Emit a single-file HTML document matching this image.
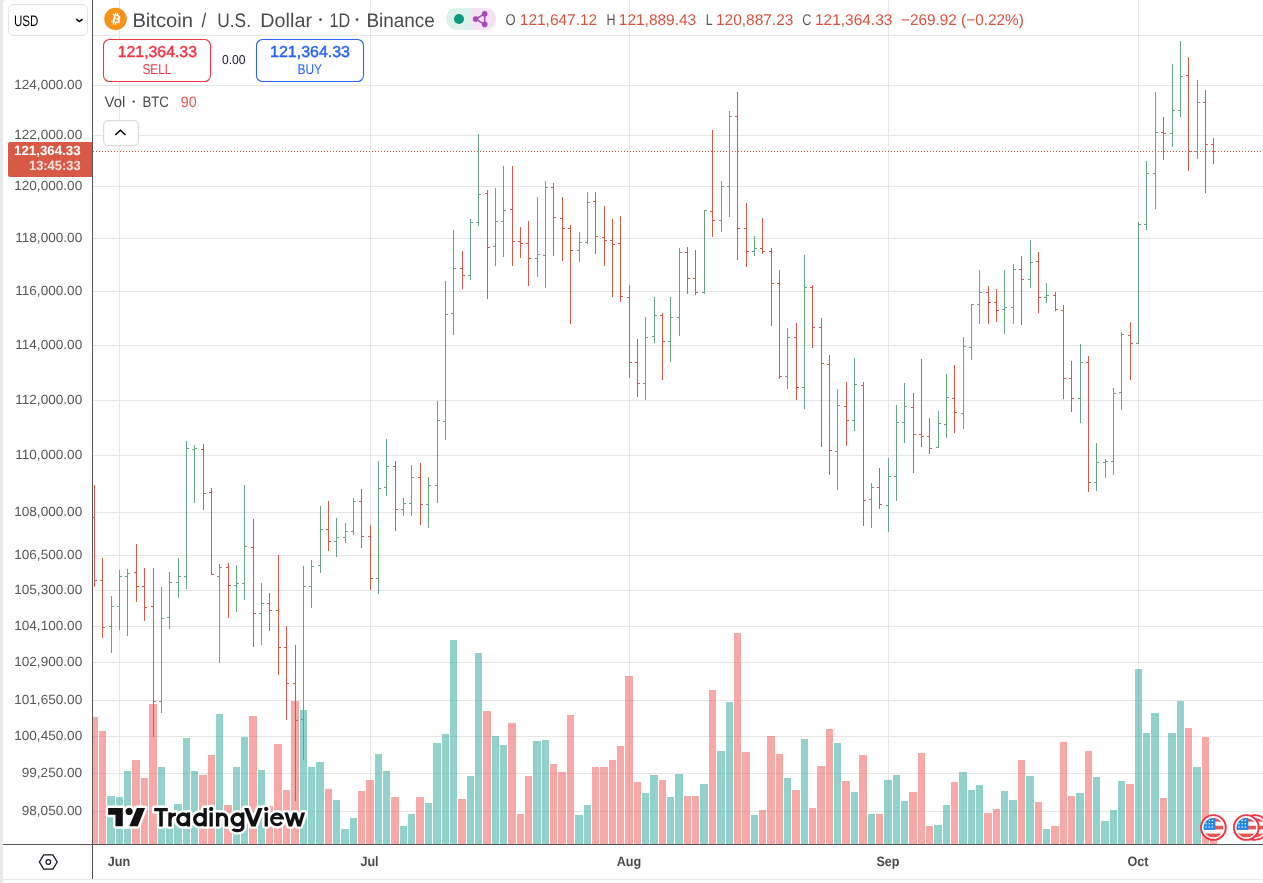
<!DOCTYPE html>
<html><head><meta charset="utf-8"><title>BTCUSD Chart</title>
<style>
html,body{margin:0;padding:0;background:#fff;}
body{width:1263px;height:883px;overflow:hidden;}
svg{display:block;font-family:"Liberation Sans",sans-serif;text-rendering:geometricPrecision;}
</style></head>
<body><svg width="1263" height="883" viewBox="0 0 1263 883"><rect x="0" y="0" width="1263" height="883" fill="#ffffff"/><rect x="0" y="0" width="3" height="883" fill="#e9e9e9"/><path d="M3,0 H7 A4,4 0 0 0 3,4 Z" fill="#e9e9e9"/><rect x="3" y="879" width="1260" height="1" fill="#e9e9e9"/><g fill="#e6e6e6" shape-rendering="crispEdges"><rect x="93" y="35" width="1170" height="1"/><rect x="93" y="85" width="1170" height="1"/><rect x="93" y="135" width="1170" height="1"/><rect x="93" y="186" width="1170" height="1"/><rect x="93" y="238" width="1170" height="1"/><rect x="93" y="291" width="1170" height="1"/><rect x="93" y="345" width="1170" height="1"/><rect x="93" y="400" width="1170" height="1"/><rect x="93" y="455" width="1170" height="1"/><rect x="93" y="512" width="1170" height="1"/><rect x="93" y="555" width="1170" height="1"/><rect x="93" y="590" width="1170" height="1"/><rect x="93" y="626" width="1170" height="1"/><rect x="93" y="662" width="1170" height="1"/><rect x="93" y="700" width="1170" height="1"/><rect x="93" y="736" width="1170" height="1"/><rect x="93" y="773" width="1170" height="1"/><rect x="93" y="811" width="1170" height="1"/><rect x="119" y="0" width="1" height="844"/><rect x="370" y="0" width="1" height="844"/><rect x="629" y="0" width="1" height="844"/><rect x="888" y="0" width="1" height="844"/><rect x="1138" y="0" width="1" height="844"/></g><g fill="rgba(239,83,80,0.5)" shape-rendering="crispEdges"><rect x="93" y="717" width="5" height="127"/><rect x="99" y="731" width="7" height="113"/><rect x="132" y="760" width="8" height="84"/><rect x="141" y="778" width="7" height="66"/><rect x="149" y="704" width="8" height="140"/><rect x="199" y="775" width="8" height="69"/><rect x="208" y="755" width="7" height="89"/><rect x="224" y="805" width="8" height="39"/><rect x="249" y="716" width="8" height="128"/><rect x="266" y="806" width="7" height="38"/><rect x="274" y="744" width="8" height="100"/><rect x="283" y="790" width="7" height="54"/><rect x="291" y="701" width="8" height="143"/><rect x="325" y="789" width="7" height="55"/><rect x="358" y="791" width="7" height="53"/><rect x="366" y="780" width="8" height="64"/><rect x="391" y="797" width="8" height="47"/><rect x="416" y="797" width="8" height="47"/><rect x="458" y="799" width="8" height="45"/><rect x="483" y="711" width="8" height="133"/><rect x="508" y="723" width="8" height="121"/><rect x="517" y="814" width="7" height="30"/><rect x="525" y="776" width="7" height="68"/><rect x="550" y="764" width="7" height="80"/><rect x="558" y="772" width="8" height="72"/><rect x="567" y="715" width="7" height="129"/><rect x="592" y="767" width="7" height="77"/><rect x="600" y="767" width="8" height="77"/><rect x="609" y="760" width="7" height="84"/><rect x="617" y="746" width="7" height="98"/><rect x="625" y="676" width="8" height="168"/><rect x="634" y="782" width="7" height="62"/><rect x="659" y="780" width="7" height="64"/><rect x="684" y="796" width="7" height="48"/><rect x="692" y="796" width="7" height="48"/><rect x="709" y="690" width="7" height="154"/><rect x="734" y="633" width="7" height="211"/><rect x="742" y="752" width="8" height="92"/><rect x="759" y="810" width="7" height="34"/><rect x="767" y="736" width="8" height="108"/><rect x="776" y="754" width="7" height="90"/><rect x="792" y="790" width="8" height="54"/><rect x="809" y="808" width="7" height="36"/><rect x="817" y="766" width="8" height="78"/><rect x="826" y="729" width="7" height="115"/><rect x="842" y="781" width="8" height="63"/><rect x="859" y="755" width="8" height="89"/><rect x="876" y="814" width="7" height="30"/><rect x="909" y="792" width="8" height="52"/><rect x="918" y="753" width="7" height="91"/><rect x="926" y="826" width="7" height="18"/><rect x="951" y="782" width="7" height="62"/><rect x="984" y="813" width="8" height="31"/><rect x="993" y="809" width="7" height="35"/><rect x="1018" y="760" width="7" height="84"/><rect x="1035" y="802" width="7" height="42"/><rect x="1051" y="826" width="8" height="18"/><rect x="1060" y="742" width="7" height="102"/><rect x="1068" y="796" width="7" height="48"/><rect x="1085" y="751" width="7" height="93"/><rect x="1126" y="784" width="8" height="60"/><rect x="1160" y="798" width="7" height="46"/><rect x="1185" y="728" width="7" height="116"/><rect x="1202" y="737" width="7" height="107"/><rect x="1210" y="836" width="7" height="8"/></g><g fill="rgba(38,166,154,0.5)" shape-rendering="crispEdges"><rect x="107" y="796" width="8" height="48"/><rect x="116" y="797" width="7" height="47"/><rect x="124" y="771" width="7" height="73"/><rect x="158" y="767" width="7" height="77"/><rect x="166" y="812" width="7" height="32"/><rect x="174" y="804" width="8" height="40"/><rect x="183" y="738" width="7" height="106"/><rect x="191" y="771" width="7" height="73"/><rect x="216" y="714" width="7" height="130"/><rect x="233" y="767" width="7" height="77"/><rect x="241" y="737" width="7" height="107"/><rect x="258" y="770" width="7" height="74"/><rect x="300" y="710" width="7" height="134"/><rect x="308" y="767" width="7" height="77"/><rect x="316" y="762" width="8" height="82"/><rect x="333" y="800" width="7" height="44"/><rect x="341" y="829" width="8" height="15"/><rect x="350" y="818" width="7" height="26"/><rect x="375" y="754" width="7" height="90"/><rect x="383" y="771" width="7" height="73"/><rect x="400" y="826" width="7" height="18"/><rect x="408" y="814" width="7" height="30"/><rect x="425" y="803" width="7" height="41"/><rect x="433" y="743" width="8" height="101"/><rect x="442" y="734" width="7" height="110"/><rect x="450" y="640" width="7" height="204"/><rect x="467" y="776" width="7" height="68"/><rect x="475" y="653" width="7" height="191"/><rect x="492" y="736" width="7" height="108"/><rect x="500" y="745" width="7" height="99"/><rect x="533" y="741" width="8" height="103"/><rect x="542" y="740" width="7" height="104"/><rect x="575" y="815" width="8" height="29"/><rect x="584" y="805" width="7" height="39"/><rect x="642" y="793" width="7" height="51"/><rect x="650" y="775" width="8" height="69"/><rect x="667" y="797" width="7" height="47"/><rect x="675" y="774" width="8" height="70"/><rect x="700" y="784" width="8" height="60"/><rect x="717" y="751" width="8" height="93"/><rect x="726" y="702" width="7" height="142"/><rect x="751" y="815" width="7" height="29"/><rect x="784" y="778" width="7" height="66"/><rect x="801" y="739" width="7" height="105"/><rect x="834" y="743" width="7" height="101"/><rect x="851" y="792" width="7" height="52"/><rect x="868" y="814" width="7" height="30"/><rect x="884" y="780" width="8" height="64"/><rect x="893" y="775" width="7" height="69"/><rect x="901" y="801" width="7" height="43"/><rect x="934" y="825" width="8" height="19"/><rect x="943" y="805" width="7" height="39"/><rect x="959" y="772" width="8" height="72"/><rect x="968" y="790" width="7" height="54"/><rect x="976" y="785" width="7" height="59"/><rect x="1001" y="791" width="7" height="53"/><rect x="1009" y="800" width="8" height="44"/><rect x="1026" y="776" width="8" height="68"/><rect x="1043" y="829" width="7" height="15"/><rect x="1076" y="793" width="8" height="51"/><rect x="1093" y="777" width="7" height="67"/><rect x="1101" y="821" width="8" height="23"/><rect x="1110" y="810" width="7" height="34"/><rect x="1118" y="781" width="7" height="63"/><rect x="1135" y="669" width="7" height="175"/><rect x="1143" y="733" width="7" height="111"/><rect x="1151" y="713" width="8" height="131"/><rect x="1168" y="733" width="8" height="111"/><rect x="1177" y="701" width="7" height="143"/><rect x="1193" y="767" width="8" height="77"/></g><g fill="#d85945" shape-rendering="crispEdges"><rect x="94" y="485" width="1" height="102"/><rect x="93" y="517" width="1" height="1"/><rect x="95" y="580" width="2" height="1"/><rect x="102" y="558" width="1" height="80"/><rect x="100" y="580" width="2" height="1"/><rect x="103" y="627" width="2" height="1"/><rect x="136" y="544" width="1" height="58"/><rect x="134" y="572" width="2" height="1"/><rect x="137" y="586" width="2" height="1"/><rect x="144" y="568" width="1" height="53"/><rect x="142" y="586" width="2" height="1"/><rect x="145" y="607" width="2" height="1"/><rect x="153" y="568" width="1" height="169"/><rect x="151" y="606" width="2" height="1"/><rect x="154" y="701" width="2" height="1"/><rect x="203" y="444" width="1" height="66"/><rect x="201" y="449" width="2" height="1"/><rect x="204" y="493" width="2" height="1"/><rect x="211" y="488" width="1" height="87"/><rect x="209" y="492" width="2" height="1"/><rect x="212" y="574" width="2" height="1"/><rect x="228" y="563" width="1" height="55"/><rect x="226" y="567" width="2" height="1"/><rect x="229" y="585" width="2" height="1"/><rect x="253" y="519" width="1" height="128"/><rect x="251" y="547" width="2" height="1"/><rect x="254" y="613" width="2" height="1"/><rect x="269" y="593" width="1" height="38"/><rect x="267" y="603" width="2" height="1"/><rect x="270" y="610" width="2" height="1"/><rect x="278" y="555" width="1" height="120"/><rect x="276" y="610" width="2" height="1"/><rect x="279" y="647" width="2" height="1"/><rect x="286" y="626" width="1" height="94"/><rect x="284" y="647" width="2" height="1"/><rect x="287" y="683" width="2" height="1"/><rect x="295" y="645" width="1" height="156"/><rect x="293" y="683" width="2" height="1"/><rect x="296" y="720" width="2" height="1"/><rect x="328" y="501" width="1" height="50"/><rect x="326" y="529" width="2" height="1"/><rect x="329" y="541" width="2" height="1"/><rect x="361" y="489" width="1" height="59"/><rect x="359" y="501" width="2" height="1"/><rect x="362" y="536" width="2" height="1"/><rect x="370" y="525" width="1" height="65"/><rect x="368" y="536" width="2" height="1"/><rect x="371" y="578" width="2" height="1"/><rect x="395" y="461" width="1" height="70"/><rect x="393" y="466" width="2" height="1"/><rect x="396" y="509" width="2" height="1"/><rect x="420" y="463" width="1" height="62"/><rect x="418" y="477" width="2" height="1"/><rect x="421" y="504" width="2" height="1"/><rect x="462" y="251" width="1" height="38"/><rect x="460" y="268" width="2" height="1"/><rect x="463" y="275" width="2" height="1"/><rect x="487" y="190" width="1" height="109"/><rect x="485" y="193" width="2" height="1"/><rect x="488" y="247" width="2" height="1"/><rect x="512" y="166" width="1" height="100"/><rect x="510" y="209" width="2" height="1"/><rect x="513" y="241" width="2" height="1"/><rect x="520" y="227" width="1" height="31"/><rect x="518" y="241" width="2" height="1"/><rect x="521" y="243" width="2" height="1"/><rect x="528" y="221" width="1" height="65"/><rect x="526" y="243" width="2" height="1"/><rect x="529" y="258" width="2" height="1"/><rect x="553" y="183" width="1" height="73"/><rect x="551" y="187" width="2" height="1"/><rect x="554" y="217" width="2" height="1"/><rect x="562" y="197" width="1" height="64"/><rect x="560" y="218" width="2" height="1"/><rect x="563" y="228" width="2" height="1"/><rect x="570" y="225" width="1" height="99"/><rect x="568" y="228" width="2" height="1"/><rect x="571" y="250" width="2" height="1"/><rect x="595" y="192" width="1" height="62"/><rect x="593" y="201" width="2" height="1"/><rect x="596" y="236" width="2" height="1"/><rect x="604" y="206" width="1" height="60"/><rect x="602" y="237" width="2" height="1"/><rect x="605" y="240" width="2" height="1"/><rect x="612" y="219" width="1" height="78"/><rect x="610" y="240" width="2" height="1"/><rect x="613" y="244" width="2" height="1"/><rect x="620" y="216" width="1" height="86"/><rect x="618" y="243" width="2" height="1"/><rect x="621" y="296" width="2" height="1"/><rect x="629" y="285" width="1" height="93"/><rect x="627" y="297" width="2" height="1"/><rect x="630" y="362" width="2" height="1"/><rect x="637" y="339" width="1" height="58"/><rect x="635" y="362" width="2" height="1"/><rect x="638" y="383" width="2" height="1"/><rect x="662" y="313" width="1" height="67"/><rect x="660" y="315" width="2" height="1"/><rect x="663" y="341" width="2" height="1"/><rect x="687" y="247" width="1" height="47"/><rect x="685" y="252" width="2" height="1"/><rect x="688" y="278" width="2" height="1"/><rect x="695" y="250" width="1" height="45"/><rect x="693" y="278" width="2" height="1"/><rect x="696" y="292" width="2" height="1"/><rect x="712" y="130" width="1" height="107"/><rect x="710" y="211" width="2" height="1"/><rect x="713" y="220" width="2" height="1"/><rect x="737" y="92" width="1" height="168"/><rect x="735" y="116" width="2" height="1"/><rect x="738" y="228" width="2" height="1"/><rect x="746" y="203" width="1" height="64"/><rect x="744" y="228" width="2" height="1"/><rect x="747" y="251" width="2" height="1"/><rect x="762" y="218" width="1" height="36"/><rect x="760" y="248" width="2" height="1"/><rect x="763" y="251" width="2" height="1"/><rect x="771" y="248" width="1" height="78"/><rect x="769" y="251" width="2" height="1"/><rect x="772" y="283" width="2" height="1"/><rect x="779" y="270" width="1" height="109"/><rect x="777" y="283" width="2" height="1"/><rect x="780" y="376" width="2" height="1"/><rect x="796" y="323" width="1" height="77"/><rect x="794" y="337" width="2" height="1"/><rect x="797" y="387" width="2" height="1"/><rect x="812" y="285" width="1" height="63"/><rect x="810" y="287" width="2" height="1"/><rect x="813" y="327" width="2" height="1"/><rect x="821" y="318" width="1" height="129"/><rect x="819" y="327" width="2" height="1"/><rect x="822" y="363" width="2" height="1"/><rect x="829" y="355" width="1" height="120"/><rect x="827" y="364" width="2" height="1"/><rect x="830" y="450" width="2" height="1"/><rect x="846" y="382" width="1" height="64"/><rect x="844" y="406" width="2" height="1"/><rect x="847" y="420" width="2" height="1"/><rect x="863" y="382" width="1" height="144"/><rect x="861" y="385" width="2" height="1"/><rect x="864" y="500" width="2" height="1"/><rect x="879" y="468" width="1" height="41"/><rect x="877" y="487" width="2" height="1"/><rect x="880" y="504" width="2" height="1"/><rect x="913" y="393" width="1" height="80"/><rect x="911" y="407" width="2" height="1"/><rect x="914" y="434" width="2" height="1"/><rect x="921" y="359" width="1" height="88"/><rect x="919" y="434" width="2" height="1"/><rect x="922" y="436" width="2" height="1"/><rect x="929" y="418" width="1" height="36"/><rect x="927" y="436" width="2" height="1"/><rect x="930" y="448" width="2" height="1"/><rect x="954" y="365" width="1" height="68"/><rect x="952" y="398" width="2" height="1"/><rect x="955" y="412" width="2" height="1"/><rect x="988" y="286" width="1" height="38"/><rect x="986" y="292" width="2" height="1"/><rect x="989" y="302" width="2" height="1"/><rect x="996" y="289" width="1" height="33"/><rect x="994" y="302" width="2" height="1"/><rect x="997" y="310" width="2" height="1"/><rect x="1021" y="256" width="1" height="69"/><rect x="1019" y="269" width="2" height="1"/><rect x="1022" y="279" width="2" height="1"/><rect x="1038" y="252" width="1" height="61"/><rect x="1036" y="261" width="2" height="1"/><rect x="1039" y="297" width="2" height="1"/><rect x="1055" y="292" width="1" height="19"/><rect x="1053" y="295" width="2" height="1"/><rect x="1056" y="309" width="2" height="1"/><rect x="1063" y="305" width="1" height="94"/><rect x="1061" y="310" width="2" height="1"/><rect x="1064" y="378" width="2" height="1"/><rect x="1071" y="361" width="1" height="51"/><rect x="1069" y="378" width="2" height="1"/><rect x="1072" y="398" width="2" height="1"/><rect x="1088" y="356" width="1" height="136"/><rect x="1086" y="362" width="2" height="1"/><rect x="1089" y="482" width="2" height="1"/><rect x="1130" y="322" width="1" height="58"/><rect x="1128" y="335" width="2" height="1"/><rect x="1131" y="343" width="2" height="1"/><rect x="1163" y="117" width="1" height="43"/><rect x="1161" y="132" width="2" height="1"/><rect x="1164" y="133" width="2" height="1"/><rect x="1188" y="57" width="1" height="114"/><rect x="1186" y="75" width="2" height="1"/><rect x="1189" y="151" width="2" height="1"/><rect x="1205" y="90" width="1" height="103"/><rect x="1203" y="102" width="2" height="1"/><rect x="1206" y="144" width="2" height="1"/><rect x="1213" y="138" width="1" height="26"/><rect x="1211" y="144" width="2" height="1"/><rect x="1214" y="151" width="2" height="1"/></g><g fill="#67a685" shape-rendering="crispEdges"><rect x="111" y="596" width="1" height="57"/><rect x="109" y="626" width="2" height="1"/><rect x="112" y="606" width="2" height="1"/><rect x="119" y="570" width="1" height="60"/><rect x="117" y="606" width="2" height="1"/><rect x="120" y="576" width="2" height="1"/><rect x="127" y="569" width="1" height="67"/><rect x="125" y="576" width="2" height="1"/><rect x="128" y="573" width="2" height="1"/><rect x="161" y="587" width="1" height="126"/><rect x="159" y="701" width="2" height="1"/><rect x="162" y="618" width="2" height="1"/><rect x="169" y="572" width="1" height="57"/><rect x="167" y="617" width="2" height="1"/><rect x="170" y="582" width="2" height="1"/><rect x="178" y="558" width="1" height="40"/><rect x="176" y="582" width="2" height="1"/><rect x="179" y="576" width="2" height="1"/><rect x="186" y="441" width="1" height="148"/><rect x="184" y="576" width="2" height="1"/><rect x="187" y="448" width="2" height="1"/><rect x="194" y="445" width="1" height="58"/><rect x="192" y="449" width="2" height="1"/><rect x="195" y="448" width="2" height="1"/><rect x="219" y="564" width="1" height="99"/><rect x="217" y="576" width="2" height="1"/><rect x="220" y="567" width="2" height="1"/><rect x="236" y="565" width="1" height="47"/><rect x="234" y="585" width="2" height="1"/><rect x="237" y="583" width="2" height="1"/><rect x="244" y="485" width="1" height="115"/><rect x="242" y="583" width="2" height="1"/><rect x="245" y="546" width="2" height="1"/><rect x="261" y="583" width="1" height="62"/><rect x="259" y="613" width="2" height="1"/><rect x="262" y="603" width="2" height="1"/><rect x="303" y="566" width="1" height="194"/><rect x="301" y="719" width="2" height="1"/><rect x="304" y="586" width="2" height="1"/><rect x="311" y="560" width="1" height="48"/><rect x="309" y="586" width="2" height="1"/><rect x="312" y="566" width="2" height="1"/><rect x="320" y="506" width="1" height="67"/><rect x="318" y="565" width="2" height="1"/><rect x="321" y="529" width="2" height="1"/><rect x="336" y="518" width="1" height="39"/><rect x="334" y="541" width="2" height="1"/><rect x="337" y="537" width="2" height="1"/><rect x="345" y="523" width="1" height="20"/><rect x="343" y="537" width="2" height="1"/><rect x="346" y="531" width="2" height="1"/><rect x="353" y="498" width="1" height="37"/><rect x="351" y="531" width="2" height="1"/><rect x="354" y="501" width="2" height="1"/><rect x="378" y="461" width="1" height="133"/><rect x="376" y="578" width="2" height="1"/><rect x="379" y="488" width="2" height="1"/><rect x="386" y="439" width="1" height="57"/><rect x="384" y="487" width="2" height="1"/><rect x="387" y="466" width="2" height="1"/><rect x="403" y="498" width="1" height="18"/><rect x="401" y="509" width="2" height="1"/><rect x="404" y="503" width="2" height="1"/><rect x="411" y="465" width="1" height="51"/><rect x="409" y="503" width="2" height="1"/><rect x="412" y="477" width="2" height="1"/><rect x="428" y="477" width="1" height="51"/><rect x="426" y="504" width="2" height="1"/><rect x="429" y="485" width="2" height="1"/><rect x="437" y="401" width="1" height="102"/><rect x="435" y="485" width="2" height="1"/><rect x="438" y="420" width="2" height="1"/><rect x="445" y="281" width="1" height="159"/><rect x="443" y="421" width="2" height="1"/><rect x="446" y="314" width="2" height="1"/><rect x="453" y="230" width="1" height="105"/><rect x="451" y="313" width="2" height="1"/><rect x="454" y="268" width="2" height="1"/><rect x="470" y="219" width="1" height="61"/><rect x="468" y="275" width="2" height="1"/><rect x="471" y="222" width="2" height="1"/><rect x="478" y="134" width="1" height="92"/><rect x="476" y="222" width="2" height="1"/><rect x="479" y="194" width="2" height="1"/><rect x="495" y="188" width="1" height="78"/><rect x="493" y="246" width="2" height="1"/><rect x="496" y="221" width="2" height="1"/><rect x="503" y="166" width="1" height="91"/><rect x="501" y="221" width="2" height="1"/><rect x="504" y="210" width="2" height="1"/><rect x="537" y="197" width="1" height="80"/><rect x="535" y="258" width="2" height="1"/><rect x="538" y="254" width="2" height="1"/><rect x="545" y="181" width="1" height="107"/><rect x="543" y="255" width="2" height="1"/><rect x="546" y="187" width="2" height="1"/><rect x="579" y="232" width="1" height="30"/><rect x="577" y="250" width="2" height="1"/><rect x="580" y="242" width="2" height="1"/><rect x="587" y="192" width="1" height="52"/><rect x="585" y="242" width="2" height="1"/><rect x="588" y="202" width="2" height="1"/><rect x="645" y="317" width="1" height="83"/><rect x="643" y="383" width="2" height="1"/><rect x="646" y="337" width="2" height="1"/><rect x="654" y="297" width="1" height="46"/><rect x="652" y="336" width="2" height="1"/><rect x="655" y="315" width="2" height="1"/><rect x="670" y="297" width="1" height="65"/><rect x="668" y="341" width="2" height="1"/><rect x="671" y="317" width="2" height="1"/><rect x="679" y="248" width="1" height="88"/><rect x="677" y="317" width="2" height="1"/><rect x="680" y="252" width="2" height="1"/><rect x="704" y="210" width="1" height="84"/><rect x="702" y="292" width="2" height="1"/><rect x="705" y="210" width="2" height="1"/><rect x="721" y="181" width="1" height="51"/><rect x="719" y="220" width="2" height="1"/><rect x="722" y="186" width="2" height="1"/><rect x="729" y="111" width="1" height="106"/><rect x="727" y="186" width="2" height="1"/><rect x="730" y="116" width="2" height="1"/><rect x="754" y="236" width="1" height="20"/><rect x="752" y="251" width="2" height="1"/><rect x="755" y="248" width="2" height="1"/><rect x="787" y="328" width="1" height="61"/><rect x="785" y="376" width="2" height="1"/><rect x="788" y="337" width="2" height="1"/><rect x="804" y="255" width="1" height="154"/><rect x="802" y="387" width="2" height="1"/><rect x="805" y="287" width="2" height="1"/><rect x="837" y="389" width="1" height="101"/><rect x="835" y="451" width="2" height="1"/><rect x="838" y="405" width="2" height="1"/><rect x="854" y="358" width="1" height="73"/><rect x="852" y="420" width="2" height="1"/><rect x="855" y="384" width="2" height="1"/><rect x="871" y="483" width="1" height="45"/><rect x="869" y="499" width="2" height="1"/><rect x="872" y="487" width="2" height="1"/><rect x="888" y="458" width="1" height="74"/><rect x="886" y="505" width="2" height="1"/><rect x="889" y="476" width="2" height="1"/><rect x="896" y="405" width="1" height="96"/><rect x="894" y="476" width="2" height="1"/><rect x="897" y="422" width="2" height="1"/><rect x="904" y="383" width="1" height="60"/><rect x="902" y="422" width="2" height="1"/><rect x="905" y="406" width="2" height="1"/><rect x="938" y="411" width="1" height="37"/><rect x="936" y="447" width="2" height="1"/><rect x="939" y="423" width="2" height="1"/><rect x="946" y="374" width="1" height="64"/><rect x="944" y="424" width="2" height="1"/><rect x="947" y="397" width="2" height="1"/><rect x="963" y="337" width="1" height="92"/><rect x="961" y="413" width="2" height="1"/><rect x="964" y="346" width="2" height="1"/><rect x="971" y="304" width="1" height="56"/><rect x="969" y="347" width="2" height="1"/><rect x="972" y="304" width="2" height="1"/><rect x="979" y="270" width="1" height="54"/><rect x="977" y="304" width="2" height="1"/><rect x="980" y="292" width="2" height="1"/><rect x="1004" y="270" width="1" height="64"/><rect x="1002" y="309" width="2" height="1"/><rect x="1005" y="307" width="2" height="1"/><rect x="1013" y="264" width="1" height="60"/><rect x="1011" y="307" width="2" height="1"/><rect x="1014" y="269" width="2" height="1"/><rect x="1030" y="240" width="1" height="48"/><rect x="1028" y="279" width="2" height="1"/><rect x="1031" y="262" width="2" height="1"/><rect x="1046" y="283" width="1" height="20"/><rect x="1044" y="297" width="2" height="1"/><rect x="1047" y="295" width="2" height="1"/><rect x="1080" y="344" width="1" height="79"/><rect x="1078" y="398" width="2" height="1"/><rect x="1081" y="362" width="2" height="1"/><rect x="1096" y="443" width="1" height="48"/><rect x="1094" y="482" width="2" height="1"/><rect x="1097" y="462" width="2" height="1"/><rect x="1105" y="459" width="1" height="19"/><rect x="1103" y="462" width="2" height="1"/><rect x="1106" y="461" width="2" height="1"/><rect x="1113" y="388" width="1" height="87"/><rect x="1111" y="461" width="2" height="1"/><rect x="1114" y="393" width="2" height="1"/><rect x="1121" y="332" width="1" height="78"/><rect x="1119" y="392" width="2" height="1"/><rect x="1122" y="334" width="2" height="1"/><rect x="1138" y="222" width="1" height="122"/><rect x="1136" y="343" width="2" height="1"/><rect x="1139" y="224" width="2" height="1"/><rect x="1146" y="161" width="1" height="69"/><rect x="1144" y="224" width="2" height="1"/><rect x="1147" y="173" width="2" height="1"/><rect x="1155" y="92" width="1" height="117"/><rect x="1153" y="173" width="2" height="1"/><rect x="1156" y="132" width="2" height="1"/><rect x="1172" y="64" width="1" height="83"/><rect x="1170" y="133" width="2" height="1"/><rect x="1173" y="110" width="2" height="1"/><rect x="1180" y="41" width="1" height="76"/><rect x="1178" y="110" width="2" height="1"/><rect x="1181" y="76" width="2" height="1"/><rect x="1197" y="80" width="1" height="79"/><rect x="1195" y="151" width="2" height="1"/><rect x="1198" y="102" width="2" height="1"/></g><line x1="93" y1="151.5" x2="1263" y2="151.5" stroke="#d85945" stroke-width="1" stroke-dasharray="1 2" shape-rendering="crispEdges"/><rect x="92" y="0" width="1" height="879" fill="#555555"/><rect x="3" y="844" width="1260" height="1" fill="#555555"/><path d="M10,142 H92 V177 H10 Q8,177 8,175 V144 Q8,142 10,142 Z" fill="#d85945"/><rect x="8.5" y="4.5" width="79" height="31" rx="5" fill="#ffffff" stroke="#e4e4e4" stroke-width="1"/><path d="M76.3,19.1 L79.4,21.6 L82.5,19.1" fill="none" stroke="#000000" stroke-width="1.5"/><circle cx="115.55" cy="18.9" r="11.25" fill="#f7931a"/><path transform="translate(115.6,18.9) scale(0.305) translate(-31,-32)" fill="#fff" d="M46.103,27.444c0.637-4.258-2.605-6.547-7.038-8.074l1.438-5.768l-3.511-0.875l-1.4,5.616c-0.923-0.23-1.871-0.447-2.813-0.662l1.41-5.653l-3.509-0.875l-1.439,5.766c-0.764-0.174-1.514-0.346-2.242-0.527l0.004-0.018l-4.842-1.209l-0.934,3.75c0,0,2.605,0.597,2.55,0.634c1.422,0.355,1.679,1.296,1.636,2.042l-1.638,6.571c0.098,0.025,0.225,0.061,0.365,0.117c-0.117-0.029-0.242-0.061-0.371-0.092l-2.296,9.205c-0.174,0.432-0.615,1.08-1.609,0.834c0.035,0.051-2.552-0.637-2.552-0.637l-1.743,4.019l4.569,1.139c0.85,0.213,1.683,0.436,2.503,0.646l-1.453,5.834l3.507,0.875l1.439-5.772c0.958,0.26,1.888,0.5,2.798,0.726l-1.434,5.745l3.511,0.875l1.453-5.823c5.987,1.133,10.489,0.676,12.384-4.739c1.527-4.36-0.076-6.875-3.226-8.515C44.992,33.396,46.635,31.172,46.103,27.444L46.103,27.444z M38.08,38.69c-1.085,4.36-8.426,2.003-10.806,1.412l1.928-7.729C31.582,32.969,39.217,34.149,38.08,38.69z M39.166,27.381c-0.99,3.966-7.1,1.951-9.082,1.457l1.748-7.01C33.814,22.322,40.195,23.244,39.166,27.381z"/><circle cx="320.5" cy="19.6" r="1.35" fill="#4a4a4a"/><circle cx="357.1" cy="19.6" r="1.35" fill="#4a4a4a"/><path d="M457,8 H471 V30 H457 A11,11 0 0 1 457,8 Z" fill="#ddf1ed"/><path d="M471,8 H485 A11,11 0 0 1 485,30 H471 Z" fill="#f3e3f5"/><circle cx="459" cy="19" r="5" fill="#089981"/><g stroke="#ab47bc" stroke-width="1.6" fill="#ab47bc"><line x1="484.7" y1="13.7" x2="475.6" y2="19.1"/><line x1="475.6" y1="19.1" x2="484.7" y2="24.4"/><line x1="484.7" y1="13.7" x2="484.7" y2="24.4"/></g><g fill="#ab47bc"><circle cx="484.7" cy="13.7" r="2.8"/><circle cx="475.6" cy="19.1" r="2.8"/><circle cx="484.7" cy="24.4" r="2.8"/></g><rect x="103.5" y="39.5" width="107" height="42" rx="6" fill="#ffffff" stroke="#f23645" stroke-width="1.1"/><rect x="256.5" y="39.5" width="107" height="42" rx="6" fill="#ffffff" stroke="#2962ff" stroke-width="1.1"/><circle cx="133.8" cy="101.6" r="1.2" fill="#4a4a4a"/><rect x="103.6" y="120.6" width="34.8" height="25" rx="4.5" fill="#ffffff" fill-opacity="0.85" stroke="#dcdcdc" stroke-width="1.2"/><path d="M115.3,135 L120.4,130.3 L125.4,135" fill="none" stroke="#000000" stroke-width="1.5"/><path d="M43.7,854.8 H52.9 L57.2,862 L52.9,869.2 H43.7 L39.4,862 Z" fill="none" stroke="#131722" stroke-width="1.3"/><circle cx="48.3" cy="862" r="2.3" fill="none" stroke="#131722" stroke-width="1.2"/><path d="M156.8,813.7 156.8,826.8 157.0,827.3 157.5,828.1 158.3,828.6 158.8,828.8 163.3,828.8 163.8,828.6 164.6,828.1 165.1,827.3 165.3,826.4 165.3,813.7 165.9,813.7 165.9,826.8 166.3,827.7 166.6,828.1 167.4,828.6 167.8,828.8 172.1,828.8 172.6,828.6 173.4,828.1 173.9,827.3 174.1,826.8 174.1,821.6 174.6,823.0 175.2,824.2 176.0,825.4 176.9,826.4 178.0,827.2 179.2,827.9 180.5,828.4 181.8,828.7 183.7,828.8 185.6,828.5 186.3,828.8 186.8,828.8 190.1,828.8 191.0,828.6 191.8,828.1 192.4,827.3 192.5,826.4 192.5,825.2 193.8,826.5 195.3,827.6 197.0,828.3 198.8,828.7 200.6,828.8 202.3,828.5 203.0,828.8 203.5,828.8 206.8,828.8 207.3,828.8 208.2,828.4 209.0,828.8 209.5,828.8 212.8,828.8 213.8,828.6 214.4,828.2 215.0,828.6 215.9,828.8 219.8,828.8 220.2,828.6 221.0,828.1 221.6,827.3 221.7,826.8 221.8,818.6 221.8,818.4 222.0,818.4 222.2,818.4 222.2,818.6 222.2,826.4 222.4,827.3 223.0,828.1 223.8,828.6 224.7,828.8 228.1,828.8 228.5,828.8 229.3,828.5 229.0,829.1 228.9,829.6 229.0,830.5 229.5,831.4 230.7,832.5 232.0,833.4 233.6,834.0 235.6,834.5 237.5,834.6 239.0,834.5 240.2,834.3 242.3,833.6 243.2,833.1 244.1,832.5 244.9,831.8 245.6,831.0 246.4,829.5 246.8,828.0 246.8,822.1 248.8,827.2 249.3,828.0 249.7,828.4 250.6,828.8 251.1,828.8 255.6,828.8 256.1,828.8 257.0,828.4 257.4,828.0 257.9,827.2 262.1,816.2 262.1,826.8 262.5,827.7 262.8,828.1 263.6,828.6 264.6,828.8 267.9,828.8 268.8,828.6 269.6,828.1 269.9,827.7 270.3,826.8 270.3,825.9 271.3,826.7 272.2,827.3 273.4,827.9 274.5,828.3 275.6,828.5 276.8,828.6 278.1,828.6 279.2,828.4 281.2,827.7 282.9,826.5 283.8,825.7 284.5,824.9 284.9,824.3 285.2,823.4 286.6,827.6 287.2,828.3 287.7,828.6 288.7,828.8 292.7,828.7 293.7,828.3 294.0,828.0 294.3,827.6 294.8,826.4 295.2,827.6 295.8,828.3 296.3,828.6 297.3,828.8 301.3,828.7 302.3,828.3 302.6,828.0 303.1,827.1 307.4,813.3 307.5,812.4 307.3,811.5 306.8,810.8 306.0,810.3 305.1,810.1 301.6,810.1 300.6,810.4 300.1,810.6 299.5,811.4 299.1,812.5 298.6,811.4 298.0,810.6 297.5,810.4 296.5,810.1 292.5,810.2 291.5,810.6 291.2,811.0 290.9,811.4 290.4,812.5 290.0,811.4 289.7,811.0 289.4,810.6 288.4,810.2 283.9,810.2 283.1,810.5 282.7,810.8 282.2,811.6 280.9,810.9 279.7,810.4 278.3,810.1 277.0,810.1 275.2,810.2 273.4,810.8 271.8,811.6 270.3,812.8 270.3,812.1 270.0,811.4 270.6,810.2 270.7,808.9 270.6,807.8 270.2,806.9 269.5,805.8 268.5,805.0 267.2,804.5 266.0,804.4 265.3,804.5 264.5,804.7 263.8,805.1 263.1,805.6 258.2,805.5 257.2,805.7 256.8,806.0 256.4,806.3 255.9,807.1 253.3,813.8 250.8,807.1 250.3,806.3 249.5,805.7 249.0,805.6 244.1,805.5 243.2,805.7 242.8,806.0 242.1,806.6 241.9,807.0 241.7,807.9 241.7,808.4 242.3,810.1 240.6,810.2 240.0,810.4 238.6,810.1 237.0,810.1 235.8,810.2 234.5,810.5 233.0,811.2 231.6,812.1 230.5,813.2 229.5,814.5 228.6,813.2 227.4,812.0 226.0,811.1 224.5,810.5 223.4,810.2 222.2,810.1 221.2,810.1 220.1,810.3 219.3,810.1 215.6,810.2 215.7,809.2 215.7,808.2 215.4,807.2 214.8,806.2 214.0,805.4 213.2,804.9 212.1,804.5 211.1,804.5 210.3,804.5 209.4,804.8 208.6,805.3 207.9,805.8 207.3,805.6 206.8,805.5 203.5,805.5 202.6,805.7 201.8,806.3 201.2,807.1 201.1,808.0 201.1,810.2 199.8,810.1 198.6,810.2 197.5,810.4 196.3,810.8 195.3,811.3 194.2,812.1 193.3,812.9 192.5,813.7 192.5,812.1 192.1,811.2 191.5,810.6 190.6,810.2 186.8,810.1 186.3,810.2 185.6,810.4 183.9,810.1 182.1,810.2 180.0,810.7 179.0,811.1 178.1,811.6 177.6,810.8 177.2,810.5 176.3,810.2 174.6,810.2 172.9,810.5 172.1,810.2 170.2,810.1 170.2,808.0 170.1,807.1 169.5,806.3 168.7,805.7 168.3,805.6 154.2,805.5 153.3,805.7 152.5,806.3 151.9,807.1 151.8,807.5 151.8,811.2 151.9,812.2 152.5,813.0 153.3,813.5 154.2,813.7ZM230.1,827.6 230.5,826.8 230.5,825.8 231.6,826.8ZM125.0,806.9 124.5,806.2 124.2,805.9 123.7,805.6 122.8,805.4 108.1,805.4 107.2,805.6 106.4,806.2 105.8,807.0 105.7,807.4 105.6,814.8 105.8,815.7 106.4,816.5 107.2,817.1 107.6,817.2 113.0,817.2 113.1,826.8 113.2,827.2 113.8,828.0 114.6,828.6 115.5,828.8 137.8,828.8 138.7,828.6 139.2,828.3 139.5,828.0 140.1,827.2 147.4,808.9 147.5,808.0 147.4,807.0 147.1,806.6 146.5,806.0 145.6,805.6 136.9,805.5 136.0,805.7 133.1,806.8 132.2,806.2 131.2,805.7 130.1,805.4 129.0,805.4 127.9,805.5 126.9,805.8 125.9,806.2Z" fill="#ffffff"/><path d="M213.3,808.6 213.1,808.2 212.9,807.8 212.7,807.5 212.4,807.3 212.0,807.1 211.6,806.9 211.2,806.9 210.8,806.9 210.4,807.1 210.0,807.3 209.7,807.5 209.5,807.8 209.3,808.2 209.1,808.6 209.1,809.0 209.1,809.4 209.3,809.8 209.5,810.2 209.7,810.5 210.0,810.7 210.4,810.9 210.8,811.1 211.2,811.1 211.6,811.1 212.0,810.9 212.4,810.7 212.7,810.5 212.9,810.2 213.1,809.8 213.3,809.4 213.3,809.0ZM167.8,808.0 154.2,808.0 154.2,811.2 159.2,811.2 159.2,826.4 162.8,826.4 162.8,811.2 167.8,811.2ZM132.7,810.8 132.5,810.1 132.2,809.5 131.7,808.9 131.2,808.5 130.6,808.1 129.9,807.9 129.2,807.8 128.5,807.9 127.8,808.0 127.1,808.4 126.6,808.8 126.1,809.3 125.8,810.0 125.5,810.7 125.5,811.4 125.5,812.1 125.7,812.8 126.0,813.4 126.5,814.0 127.0,814.4 127.6,814.8 128.3,815.0 129.0,815.1 129.7,815.0 130.4,814.9 131.1,814.5 131.6,814.1 132.1,813.6 132.4,812.9 132.7,812.2 132.7,811.5ZM171.7,819.6 171.9,818.7 172.1,818.0 172.5,817.3 173.0,816.8 173.6,816.4 174.2,816.2 175.0,816.0 175.9,815.9 175.9,812.6 174.6,812.7 173.6,812.9 172.5,813.2 171.7,813.6 171.7,812.6 168.3,812.6 168.3,826.4 171.7,826.4 171.7,820.7ZM122.8,807.9 108.1,807.9 108.1,814.8 115.5,814.8 115.5,826.3 122.8,826.3ZM136.9,808.0 129.3,826.3 137.8,826.3 145.1,808.0ZM206.8,808.0 203.5,808.0 203.5,813.5 202.3,813.0 201.0,812.6 199.6,812.6 198.3,812.8 197.0,813.2 195.8,813.9 194.8,814.8 194.0,815.9 193.5,817.1 193.1,818.4 193.1,819.8 193.3,821.1 193.7,822.4 194.4,823.6 195.3,824.6 196.4,825.4 197.0,825.7 197.8,826.0 198.4,826.2 199.3,826.3 200.3,826.3 201.5,826.2 202.6,825.8 203.5,825.4 203.5,826.4 206.8,826.4ZM203.4,819.9 203.3,820.5 203.0,821.2 202.6,821.7 202.1,822.2 201.5,822.6 200.9,822.8 200.2,822.9 199.5,822.9 198.9,822.8 198.2,822.5 197.7,822.1 197.2,821.6 196.8,821.0 196.6,820.4 196.5,819.7 196.5,819.0 196.6,818.4 196.9,817.7 197.3,817.2 197.8,816.7 198.4,816.3 199.0,816.1 199.7,816.0 200.4,816.0 201.0,816.1 201.7,816.4 202.2,816.8 202.7,817.3 203.1,817.9 203.3,818.5 203.4,819.2ZM186.8,813.5 185.2,812.8 183.9,812.6 182.5,812.6 181.2,812.8 179.9,813.4 178.8,814.1 177.9,815.1 177.1,816.2 176.6,817.4 176.3,818.8 176.3,820.1 176.6,821.5 177.1,822.7 177.9,823.8 178.8,824.8 179.9,825.5 180.7,825.9 181.5,826.1 182.4,826.3 183.4,826.3 184.2,826.3 185.2,826.1 186.0,825.8 186.8,825.4 186.8,826.4 190.1,826.4 190.1,812.6 186.8,812.6ZM186.7,820.0 186.5,820.6 186.2,821.2 185.8,821.8 185.3,822.3 184.7,822.6 184.1,822.8 183.4,822.9 182.7,822.9 182.0,822.7 181.4,822.5 180.8,822.0 180.4,821.5 180.0,820.9 179.8,820.3 179.7,819.6 179.7,818.9 179.9,818.3 180.2,817.7 180.6,817.1 181.1,816.6 181.7,816.3 182.3,816.1 183.0,816.0 183.7,816.0 184.4,816.2 185.0,816.4 185.6,816.9 186.0,817.4 186.4,818.0 186.6,818.6 186.7,819.3ZM212.8,812.6 209.5,812.6 209.5,826.4 212.8,826.4ZM268.2,808.4 268.1,808.1 267.9,807.7 267.6,807.4 267.3,807.1 266.9,807.0 266.5,806.9 266.1,806.9 265.7,806.9 265.3,807.1 264.9,807.3 264.6,807.5 264.4,807.9 264.2,808.2 264.1,808.6 264.1,809.1 264.2,809.5 264.3,809.8 264.5,810.2 264.8,810.5 265.1,810.8 265.5,810.9 265.9,811.0 266.3,811.0 266.7,811.0 267.1,810.8 267.5,810.6 267.8,810.4 268.0,810.0 268.2,809.7 268.3,809.3 268.3,808.8ZM228.0,817.6 227.8,816.8 227.5,816.1 227.2,815.5 226.7,814.8 226.2,814.2 225.6,813.7 225.0,813.3 224.3,813.0 223.2,812.7 221.9,812.6 220.5,812.7 219.3,813.2 219.3,812.6 215.9,812.6 215.9,826.4 219.3,826.4 219.3,818.6 219.4,817.9 219.8,817.1 220.3,816.5 221.2,816.0 222.0,815.9 222.8,816.0 223.7,816.5 224.2,817.1 224.6,817.9 224.7,818.6 224.7,826.4 228.1,826.4 228.1,818.6ZM258.2,808.0 253.3,820.7 248.5,808.0 244.1,808.0 251.1,826.4 255.6,826.4 262.6,808.0ZM283.5,817.1 282.8,815.7 282.0,814.6 280.9,813.7 279.8,813.1 278.5,812.7 277.2,812.5 275.8,812.6 274.5,813.0 273.9,813.2 273.2,813.7 272.5,814.2 272.0,814.6 271.2,815.7 270.5,817.1 270.2,818.3 270.2,819.5 270.3,820.7 270.6,821.8 271.2,823.0 272.0,824.1 273.1,825.0 274.2,825.6 275.5,826.0 276.8,826.2 278.2,826.1 279.5,825.7 280.5,825.2 281.3,824.6 282.2,823.8 282.8,823.0 280.3,821.4 279.9,821.9 279.4,822.4 278.8,822.7 278.2,823.0 277.6,823.2 276.9,823.2 276.2,823.1 275.6,822.9 275.1,822.7 274.6,822.4 274.1,821.9 273.8,821.5 273.5,821.0 273.3,820.5 273.2,819.9 273.2,819.3 283.9,819.4 283.9,817.1ZM274.1,816.8 274.8,816.2 275.5,815.8 276.3,815.6 277.2,815.5 278.0,815.6 278.8,816.0 279.5,816.4 280.1,817.1 273.9,817.1ZM241.1,813.5 240.0,813.0 239.3,812.8 238.6,812.6 237.8,812.5 237.1,812.5 236.3,812.6 234.9,813.0 234.3,813.2 233.6,813.7 232.9,814.2 232.4,814.7 231.6,815.7 231.2,816.5 230.9,817.1 230.6,818.1 230.5,819.1 230.5,820.1 230.8,821.3 231.2,822.4 231.7,823.3 232.3,824.1 233.0,824.8 234.0,825.5 234.9,825.9 235.9,826.2 236.9,826.4 238.1,826.4 239.1,826.2 240.1,825.9 241.1,825.4 241.1,827.3 241.0,827.7 240.6,828.2 239.8,828.7 239.0,828.9 238.3,829.0 237.6,829.1 236.7,829.1 235.8,828.9 235.2,828.7 234.7,828.5 234.2,828.2 231.3,829.8 231.8,830.3 232.5,830.8 233.1,831.2 234.3,831.7 235.6,832.0 236.5,832.2 237.4,832.2 238.3,832.2 239.2,832.0 240.5,831.7 241.7,831.2 242.3,830.8 243.0,830.3 243.7,829.5 244.2,828.6 244.3,827.9 244.4,827.4 244.4,812.6 241.1,812.6ZM241.0,819.9 240.8,820.6 240.5,821.2 240.1,821.8 239.6,822.2 239.0,822.6 238.4,822.9 237.7,823.0 237.0,823.0 236.3,822.8 235.7,822.5 235.1,822.1 234.7,821.6 234.3,821.0 234.0,820.4 233.9,819.7 233.9,819.0 234.1,818.3 234.4,817.7 234.8,817.1 235.3,816.7 235.9,816.3 236.5,816.0 237.2,815.9 237.9,815.9 238.6,816.1 239.2,816.4 239.8,816.8 240.2,817.3 240.6,817.9 240.9,818.5 241.0,819.2ZM264.6,812.6 264.6,826.4 267.9,826.4 267.9,812.6ZM300.8,826.4 305.1,812.6 301.6,812.6 299.1,820.8 296.5,812.6 293.0,812.6 290.4,820.8 287.9,812.6 284.4,812.6 288.7,826.4 292.2,826.4 294.8,818.2 297.3,826.4Z" fill="#111111" fill-rule="evenodd"/><clipPath id="fc1255"><circle cx="1255.2" cy="827.7" r="9.8"/></clipPath><circle cx="1255.2" cy="827.5" r="12.4" fill="#ffffff" stroke="#f23645" stroke-width="1.9"/><g clip-path="url(#fc1255)"><rect x="1245.2" y="817.90" width="20" height="3.92" fill="#ef5350"/><rect x="1245.2" y="821.82" width="20" height="3.92" fill="#ffffff"/><rect x="1245.2" y="825.74" width="20" height="3.92" fill="#ef5350"/><rect x="1245.2" y="829.66" width="20" height="3.92" fill="#ffffff"/><rect x="1245.2" y="833.58" width="20" height="3.92" fill="#ef5350"/><rect x="1245.2" y="817.9" width="12" height="12" fill="#1e88e5"/><circle cx="1247.90" cy="820.50" r="0.75" fill="#ffffff"/><circle cx="1251.00" cy="820.50" r="0.75" fill="#ffffff"/><circle cx="1254.10" cy="820.50" r="0.75" fill="#ffffff"/><circle cx="1247.90" cy="823.70" r="0.75" fill="#ffffff"/><circle cx="1251.00" cy="823.70" r="0.75" fill="#ffffff"/><circle cx="1254.10" cy="823.70" r="0.75" fill="#ffffff"/><circle cx="1247.90" cy="826.90" r="0.75" fill="#ffffff"/><circle cx="1251.00" cy="826.90" r="0.75" fill="#ffffff"/><circle cx="1254.10" cy="826.90" r="0.75" fill="#ffffff"/></g><clipPath id="fc1246"><circle cx="1246.3" cy="827.7" r="9.8"/></clipPath><circle cx="1246.3" cy="827.5" r="12.4" fill="#ffffff" stroke="#f23645" stroke-width="1.9"/><g clip-path="url(#fc1246)"><rect x="1236.3" y="817.90" width="20" height="3.92" fill="#ef5350"/><rect x="1236.3" y="821.82" width="20" height="3.92" fill="#ffffff"/><rect x="1236.3" y="825.74" width="20" height="3.92" fill="#ef5350"/><rect x="1236.3" y="829.66" width="20" height="3.92" fill="#ffffff"/><rect x="1236.3" y="833.58" width="20" height="3.92" fill="#ef5350"/><rect x="1236.3" y="817.9" width="12" height="12" fill="#1e88e5"/><circle cx="1239.00" cy="820.50" r="0.75" fill="#ffffff"/><circle cx="1242.10" cy="820.50" r="0.75" fill="#ffffff"/><circle cx="1245.20" cy="820.50" r="0.75" fill="#ffffff"/><circle cx="1239.00" cy="823.70" r="0.75" fill="#ffffff"/><circle cx="1242.10" cy="823.70" r="0.75" fill="#ffffff"/><circle cx="1245.20" cy="823.70" r="0.75" fill="#ffffff"/><circle cx="1239.00" cy="826.90" r="0.75" fill="#ffffff"/><circle cx="1242.10" cy="826.90" r="0.75" fill="#ffffff"/><circle cx="1245.20" cy="826.90" r="0.75" fill="#ffffff"/></g><clipPath id="fc1213"><circle cx="1213.4" cy="827.7" r="9.8"/></clipPath><circle cx="1213.4" cy="827.5" r="12.4" fill="#ffffff" stroke="#f23645" stroke-width="1.9"/><g clip-path="url(#fc1213)"><rect x="1203.4" y="817.90" width="20" height="3.92" fill="#ef5350"/><rect x="1203.4" y="821.82" width="20" height="3.92" fill="#ffffff"/><rect x="1203.4" y="825.74" width="20" height="3.92" fill="#ef5350"/><rect x="1203.4" y="829.66" width="20" height="3.92" fill="#ffffff"/><rect x="1203.4" y="833.58" width="20" height="3.92" fill="#ef5350"/><rect x="1203.4" y="817.9" width="12" height="12" fill="#1e88e5"/><circle cx="1206.10" cy="820.50" r="0.75" fill="#ffffff"/><circle cx="1209.20" cy="820.50" r="0.75" fill="#ffffff"/><circle cx="1212.30" cy="820.50" r="0.75" fill="#ffffff"/><circle cx="1206.10" cy="823.70" r="0.75" fill="#ffffff"/><circle cx="1209.20" cy="823.70" r="0.75" fill="#ffffff"/><circle cx="1212.30" cy="823.70" r="0.75" fill="#ffffff"/><circle cx="1206.10" cy="826.90" r="0.75" fill="#ffffff"/><circle cx="1209.20" cy="826.90" r="0.75" fill="#ffffff"/><circle cx="1212.30" cy="826.90" r="0.75" fill="#ffffff"/></g><g opacity="0.999"><text transform="translate(14.20,89.00) scale(1.0215,1)" font-size="13.30" fill="#575757" font-weight="normal">124,000.00</text><text transform="translate(14.20,139.00) scale(1.0215,1)" font-size="13.30" fill="#575757" font-weight="normal">122,000.00</text><text transform="translate(14.20,190.00) scale(1.0215,1)" font-size="13.30" fill="#575757" font-weight="normal">120,000.00</text><text transform="translate(15.22,242.00) scale(1.0215,1)" font-size="13.30" fill="#575757" font-weight="normal">118,000.00</text><text transform="translate(15.22,295.00) scale(1.0215,1)" font-size="13.30" fill="#575757" font-weight="normal">116,000.00</text><text transform="translate(15.22,349.00) scale(1.0215,1)" font-size="13.30" fill="#575757" font-weight="normal">114,000.00</text><text transform="translate(15.22,404.00) scale(1.0215,1)" font-size="13.30" fill="#575757" font-weight="normal">112,000.00</text><text transform="translate(15.22,459.00) scale(1.0215,1)" font-size="13.30" fill="#575757" font-weight="normal">110,000.00</text><text transform="translate(14.20,516.00) scale(1.0215,1)" font-size="13.30" fill="#575757" font-weight="normal">108,000.00</text><text transform="translate(14.20,559.00) scale(1.0215,1)" font-size="13.30" fill="#575757" font-weight="normal">106,500.00</text><text transform="translate(14.20,594.00) scale(1.0215,1)" font-size="13.30" fill="#575757" font-weight="normal">105,300.00</text><text transform="translate(14.20,630.00) scale(1.0215,1)" font-size="13.30" fill="#575757" font-weight="normal">104,100.00</text><text transform="translate(14.20,666.00) scale(1.0215,1)" font-size="13.30" fill="#575757" font-weight="normal">102,900.00</text><text transform="translate(14.20,704.00) scale(1.0215,1)" font-size="13.30" fill="#575757" font-weight="normal">101,650.00</text><text transform="translate(14.20,740.00) scale(1.0215,1)" font-size="13.30" fill="#575757" font-weight="normal">100,450.00</text><text transform="translate(21.74,777.00) scale(1.0215,1)" font-size="13.30" fill="#575757" font-weight="normal">99,250.00</text><text transform="translate(21.74,815.00) scale(1.0215,1)" font-size="13.30" fill="#575757" font-weight="normal">98,050.00</text><text transform="translate(14.00,154.50) scale(1.0005,1)" font-size="13.30" fill="#ffffff" font-weight="bold">121,364.33</text><text transform="translate(29.00,170.30) scale(0.9687,1)" font-size="13.30" fill="#ffffff" opacity="0.82" font-weight="bold">13:45:33</text><text transform="translate(107.79,866.10) scale(0.9265,1)" font-size="13.60" fill="#4a4a4a" font-weight="bold">Jun</text><text transform="translate(360.40,866.10) scale(0.9265,1)" font-size="13.60" fill="#4a4a4a" font-weight="bold">Jul</text><text transform="translate(616.75,866.10) scale(0.9265,1)" font-size="13.60" fill="#4a4a4a" font-weight="bold">Aug</text><text transform="translate(876.44,866.10) scale(0.9265,1)" font-size="13.60" fill="#4a4a4a" font-weight="bold">Sep</text><text transform="translate(1127.51,866.10) scale(0.9265,1)" font-size="13.60" fill="#4a4a4a" font-weight="bold">Oct</text><text transform="translate(13.90,25.90) scale(0.7599,1)" font-size="15.22" fill="#000000" font-weight="normal">USD</text><text transform="translate(132.40,26.60) scale(1.0249,1)" font-size="19.71" fill="#4a4a4a" font-weight="normal">Bitcoin</text><text transform="translate(201.60,26.60) scale(0.8697,1)" font-size="19.71" fill="#4a4a4a" font-weight="normal">/</text><text transform="translate(217.30,26.60) scale(0.8791,1)" font-size="19.71" fill="#4a4a4a" font-weight="normal">U.S.</text><text transform="translate(260.30,26.60) scale(1.0050,1)" font-size="19.71" fill="#4a4a4a" font-weight="normal">Dollar</text><text transform="translate(329.40,26.60) scale(0.8244,1)" font-size="19.71" fill="#4a4a4a" font-weight="normal">1D</text><text transform="translate(366.40,26.60) scale(0.9614,1)" font-size="19.71" fill="#4a4a4a" font-weight="normal">Binance</text><text transform="translate(505.60,24.80) scale(0.8433,1)" font-size="15.51" fill="#555555" font-weight="normal">O</text><text transform="translate(519.80,24.80) scale(0.9972,1)" font-size="15.51" fill="#d9543f" font-weight="normal">121,647.12</text><text transform="translate(606.40,24.80) scale(0.8061,1)" font-size="15.51" fill="#555555" font-weight="normal">H</text><text transform="translate(618.80,24.80) scale(0.9972,1)" font-size="15.51" fill="#d9543f" font-weight="normal">121,889.43</text><text transform="translate(705.80,24.80) scale(0.7901,1)" font-size="15.51" fill="#555555" font-weight="normal">L</text><text transform="translate(716.00,24.80) scale(0.9972,1)" font-size="15.51" fill="#d9543f" font-weight="normal">120,887.23</text><text transform="translate(802.30,24.80) scale(0.8150,1)" font-size="15.51" fill="#555555" font-weight="normal">C</text><text transform="translate(815.00,24.80) scale(0.9972,1)" font-size="15.51" fill="#d9543f" font-weight="normal">121,364.33</text><text transform="translate(901.00,24.80) scale(0.9892,1)" font-size="15.51" fill="#d9543f" font-weight="normal">−269.92 (−0.22%)</text><text transform="translate(117.70,56.80) scale(0.9939,1)" font-size="15.94" fill="#f23645" font-weight="normal" stroke="#f23645" stroke-width="0.45">121,364.33</text><text transform="translate(142.40,73.80) scale(0.8322,1)" font-size="14.20" fill="#f23645" font-weight="normal">SELL</text><text transform="translate(222.00,64.00) scale(0.9514,1)" font-size="12.75" fill="#131722" font-weight="normal">0.00</text><text transform="translate(270.10,56.80) scale(1.0014,1)" font-size="15.94" fill="#2962ff" font-weight="normal" stroke="#2962ff" stroke-width="0.45">121,364.33</text><text transform="translate(297.40,73.80) scale(0.8463,1)" font-size="14.20" fill="#2962ff" font-weight="normal">BUY</text><text transform="translate(104.60,106.50) scale(0.9834,1)" font-size="15.22" fill="#4a4a4a" font-weight="normal">Vol</text><text transform="translate(142.40,106.50) scale(0.8674,1)" font-size="15.22" fill="#4a4a4a" font-weight="normal">BTC</text><text transform="translate(180.80,106.50) scale(0.9354,1)" font-size="15.22" fill="#ef5350" font-weight="normal">90</text></g></svg></body></html>
